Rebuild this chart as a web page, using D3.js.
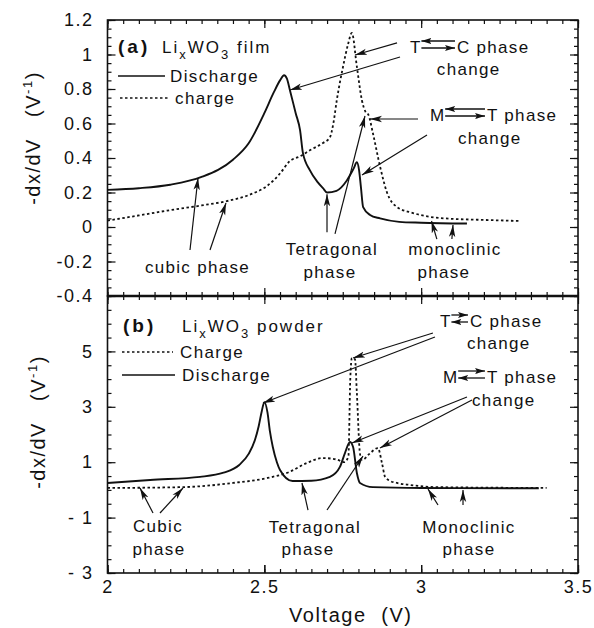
<!DOCTYPE html>
<html>
<head>
<meta charset="utf-8">
<script src="https://cdn.jsdelivr.net/npm/d3@7"></script>
<style>
    body { margin: 0; background: #fff; }
    text { font-family: "Liberation Sans", Arial, Helvetica, sans-serif; fill: #111; }
</style>
</head>
<body>
<div id="chart"></div>
<script>
// (a) LixWO3 film
var filmDisV = [2.0, 2.1, 2.2, 2.3, 2.4, 2.45, 2.5, 2.53, 2.55, 2.563, 2.572, 2.582, 2.6, 2.614, 2.623, 2.645, 2.67, 2.687, 2.70, 2.73, 2.763, 2.785, 2.795, 2.802, 2.808, 2.815, 2.837, 2.869, 2.93, 3.0, 3.146];
var filmDis  = [0.215, 0.225, 0.245, 0.29, 0.39, 0.485, 0.66, 0.78, 0.85, 0.88, 0.86, 0.79, 0.66, 0.56, 0.43, 0.33, 0.26, 0.225, 0.2, 0.21, 0.27, 0.34, 0.375, 0.33, 0.23, 0.115, 0.07, 0.05, 0.03, 0.025, 0.02];
var filmChgV = [2.0, 2.1, 2.19, 2.3, 2.38, 2.45, 2.51, 2.55, 2.58, 2.614, 2.65, 2.687, 2.709, 2.72, 2.731, 2.751, 2.767, 2.779, 2.795, 2.811, 2.822, 2.832, 2.846, 2.869, 2.891, 2.923, 2.974, 3.06, 3.219, 3.315];
var filmChg  = [0.037, 0.067, 0.095, 0.125, 0.15, 0.185, 0.24, 0.31, 0.38, 0.41, 0.45, 0.487, 0.52, 0.6, 0.735, 0.93, 1.06, 1.125, 0.93, 0.735, 0.67, 0.65, 0.545, 0.35, 0.2, 0.116, 0.081, 0.052, 0.04, 0.035];

// (b) LixWO3 powder
var powDisV = [2.0, 2.136, 2.295, 2.37, 2.42, 2.45, 2.47, 2.482, 2.492, 2.5, 2.51, 2.518, 2.527, 2.54, 2.55, 2.59, 2.65, 2.709, 2.741, 2.757, 2.773, 2.783, 2.795, 2.805, 2.846, 3.0, 3.375];
var powDis  = [0.25, 0.36, 0.47, 0.62, 0.9, 1.3, 1.8, 2.3, 2.85, 3.17, 2.8, 2.1, 1.55, 1.0, 0.72, 0.32, 0.33, 0.47, 0.83, 1.33, 1.73, 1.55, 0.61, 0.25, 0.1, 0.07, 0.06];
var powChgV = [2.0, 2.24, 2.4, 2.51, 2.58, 2.635, 2.686, 2.73, 2.755, 2.768, 2.774, 2.779, 2.789, 2.795, 2.805, 2.812, 2.835, 2.862, 2.875, 2.885, 2.9, 2.923, 2.964, 3.05, 3.4];
var powChg  = [0.07, 0.1, 0.25, 0.43, 0.65, 0.97, 1.15, 1.1, 1.0, 1.2, 4.0, 4.76, 4.72, 3.5, 1.3, 1.08, 1.3, 1.51, 0.97, 0.47, 0.33, 0.25, 0.18, 0.1, 0.07];

// ticks
var xTicks = [2, 2.5, 3, 3.5];
var xTickLabels = ["2", "2.5", "3", "3.5"];
var yTicksA = [1.2, 1, 0.8, 0.6, 0.4, 0.2, 0, -0.2, -0.4];
var yTickLabelsA = ["1.2", "1", "0.8", "0.6", "0.4", "0.2", "0", "-0.2", "-0.4"];
var yTicksB = [5, 3, 1, -1, -3];
var yTickLabelsB = ["5", "3", "1", "- 1", "- 3"];

// annotations, in data units: arrows [fromV, fromY, toV, toY]
var arrowsA = [[2.923, 1.067, 2.789, 0.997], [2.9325, 0.9855, 2.5818, 0.7942],
               [2.99, 0.626, 2.837, 0.626], [3.0186, 0.5333, 2.8114, 0.3014],
               [2.6998, -0.03, 2.6998, 0.19], [2.7253, -0.04, 2.8209, 0.6435],
               [3.05, -0.07, 3.033, 0.035], [3.098, -0.07, 3.1015, 0.012],
               [2.263, -0.133, 2.2885, 0.284], [2.3268, -0.133, 2.3778, 0.139]];
var arrowsB = [[3.0376, 5.664, 2.7826, 4.76], [3.044, 5.52, 2.4957, 3.137],
               [3.1461, 3.354, 2.7794, 1.693], [3.162, 3.2455, 2.8687, 1.513],
               [2.6392, -0.726, 2.62, 0.249], [2.6998, -0.726, 2.8146, 1.224],
               [3.0537, -0.545, 3.0218, 0.032], [3.1334, -0.545, 3.1334, -0.004],
               [2.1451, -0.834, 2.1036, 0.069], [2.1674, -0.834, 2.2407, 0.069]];
// texts [label, V, y, anchor]
var textsA = [["change", 3.05, 0.881, "start"], ["change", 3.1174, 0.4812, "start"],
              ["Tetragonal", 2.7157, -0.16, "middle"], ["phase", 2.7093, -0.298, "middle"],
              ["monoclinic", 3.1078, -0.16, "middle"], ["phase", 3.0727, -0.298, "middle"],
              ["cubic phase", 2.2869, -0.267, "middle"]];
var textsB = [["change", 3.1461, 5.087, "start"], ["change", 3.162, 3.029, "start"],
              ["Tetragonal", 2.6615, -1.556, "middle"], ["phase", 2.6392, -2.35, "middle"],
              ["Monoclinic", 3.1525, -1.556, "middle"], ["phase", 3.1525, -2.35, "middle"],
              ["Cubic", 2.161, -1.52, "middle"], ["phase", 2.1642, -2.35, "middle"]];
// phase change symbols [left, right, leftV, rightV, y, topArrowPointsRight]
var swapA = [["T", "C phase", 2.9644, 3.1142, 1.0087, false], ["M", "T phase", 3.0281, 3.2098, 0.6145, false]];
var swapB = [["T", "C phase", 3.06, 3.1557, 5.881, true], ["M", "T phase", 3.0696, 3.2098, 3.859, true]];
// legends [label, dashed, lineFromV, lineToV, lineY, textV, textY]
var legendA = [["Discharge", false, 2.0335, 2.1833, 0.8754, 2.1993, 0.8406], ["charge", true, 2.0399, 2.1929, 0.7478, 2.2152, 0.713]];
var legendB = [["Charge", true, 2.0462, 2.2088, 4.978, 2.2311, 4.762], ["Discharge", false, 2.0462, 2.2152, 4.148, 2.2375, 3.931]];

var width = 594, height = 628;
var x = d3.scaleLinear().domain([2, 3.5]).range([107.5, 578]);
var yA = d3.scaleLinear().domain([-0.4, 1.2]).range([296, 20]);
var yB = d3.scaleLinear().domain([-3, 7]).range([573, 296]);

var svg = d3.select("#chart").append("svg")
    .attr("width", width)
    .attr("height", height);

var defs = svg.append("defs");
defs.append("marker").attr("id", "head")
    .attr("viewBox", "0 -4 12 8").attr("refX", 12).attr("refY", 0)
    .attr("markerWidth", 12).attr("markerHeight", 8)
    .attr("markerUnits", "userSpaceOnUse").attr("orient", "auto")
    .append("path").attr("d", "M0,-3.2L12,0L0,3.2L3,0Z").attr("fill", "#111");
defs.append("marker").attr("id", "small")
    .attr("viewBox", "0 -4 10 8").attr("refX", 10).attr("refY", 0)
    .attr("markerWidth", 10).attr("markerHeight", 8)
    .attr("markerUnits", "userSpaceOnUse").attr("orient", "auto")
    .append("path").attr("d", "M0,-3L10,0L0,3L2,0Z").attr("fill", "#111");

function pairs(vs, ys) {
    return vs.map(function (v, i) { return [v, ys[i]]; });
}

function tickGroup(axis, tx, ty) {
    var g = svg.append("g").attr("transform", "translate(" + tx + "," + ty + ")").call(axis);
    g.select(".domain").remove();
    g.selectAll("line").attr("stroke", "#111").attr("stroke-width", 1.2);
    g.selectAll("text").attr("font-size", 18).style("letter-spacing", "1.5px").attr("fill", "#111");
    return g;
}

var xMinor = d3.range(2, 3.501, 0.05);
var x0 = x.range()[0], x1 = x.range()[1];

function drawPanel(y, yTicks, yLabels, yMinor, disV, dis, chgV, chg, arrows, texts, swaps, legend, tag, tail) {
    var top = y.range()[1], bottom = y.range()[0];
    var fmt = function (d) { return yLabels[yTicks.indexOf(d)]; };
    // y ticks
    tickGroup(d3.axisLeft(y).tickValues(yMinor).tickSize(-4).tickFormat(""), x0, 0);
    tickGroup(d3.axisLeft(y).tickValues(yTicks).tickSize(-8).tickPadding(14).tickFormat(fmt), x0, 0);
    tickGroup(d3.axisRight(y).tickValues(yMinor).tickSize(-4).tickFormat(""), x1, 0);
    tickGroup(d3.axisRight(y).tickValues(yTicks).tickSize(-8).tickFormat(""), x1, 0);
    // x ticks on top and bottom edges, pointing in
    tickGroup(d3.axisTop(x).tickValues(xMinor).tickSize(-4).tickFormat(""), 0, top);
    tickGroup(d3.axisTop(x).tickValues(xTicks).tickSize(-8).tickFormat(""), 0, top);
    tickGroup(d3.axisBottom(x).tickValues(xMinor).tickSize(-4).tickFormat(""), 0, bottom);
    tickGroup(d3.axisBottom(x).tickValues(xTicks).tickSize(-8).tickFormat(""), 0, bottom);

    svg.append("rect")
        .attr("x", x0).attr("y", top)
        .attr("width", x1 - x0).attr("height", bottom - top)
        .attr("fill", "none").attr("stroke", "#111").attr("stroke-width", 1.6);

    var line = d3.line()
        .x(function (d) { return x(d[0]); })
        .y(function (d) { return y(d[1]); })
        .curve(d3.curveMonotoneX);

    svg.append("path").datum(pairs(chgV, chg))
        .attr("d", line).attr("fill", "none").attr("stroke", "#111")
        .attr("stroke-width", 1.8).attr("stroke-dasharray", "2.5,2.5");
    svg.append("path").datum(pairs(disV, dis))
        .attr("d", line).attr("fill", "none").attr("stroke", "#111")
        .attr("stroke-width", 1.9);

    // title
    var t = svg.append("text")
        .attr("x", x(tag[1])).attr("y", y(tag[2]))
        .attr("font-size", 17);
    t.append("tspan").text(tag[0]).attr("font-weight", "bold").attr("font-size", 19).style("letter-spacing", "3px");
    var t2 = svg.append("text").attr("x", x(tail[1])).attr("y", y(tag[2]))
        .attr("font-size", 17).style("letter-spacing", "2px");
    t2.append("tspan").text("Li");
    t2.append("tspan").text("x").attr("font-size", 13).attr("dy", 6);
    t2.append("tspan").text("WO").attr("dy", -6);
    t2.append("tspan").text("3").attr("font-size", 13).attr("dy", 6);
    t2.append("tspan").text(" " + tail[0]).attr("dy", -6);

    // legend
    legend.forEach(function (d) {
        svg.append("line")
            .attr("x1", x(d[2])).attr("x2", x(d[3]))
            .attr("y1", y(d[4])).attr("y2", y(d[4]))
            .attr("stroke", "#111").attr("stroke-width", d[1] ? 1.6 : 1.3)
            .attr("stroke-dasharray", d[1] ? "2.5,2.5" : null);
        svg.append("text").attr("x", x(d[5])).attr("y", y(d[6]))
            .attr("font-size", 17).style("letter-spacing", "1.4px").text(d[0]);
    });

    // arrows
    arrows.forEach(function (d) {
        svg.append("line")
            .attr("x1", x(d[0])).attr("y1", y(d[1]))
            .attr("x2", x(d[2])).attr("y2", y(d[3]))
            .attr("stroke", "#111").attr("stroke-width", 1.2)
            .attr("marker-end", "url(#head)");
    });

    texts.forEach(function (d) {
        svg.append("text").attr("x", x(d[1])).attr("y", y(d[2]))
            .attr("text-anchor", d[3]).attr("font-size", 17)
            .style("letter-spacing", "1.3px").text(d[0]);
    });

    // "T <-> C" style labels, two opposite arrows between the letters
    swaps.forEach(function (d) {
        var base = y(d[4]);
        var a = svg.append("text").attr("x", x(d[2])).attr("y", base)
            .attr("font-size", 17).text(d[0]);
        svg.append("text").attr("x", x(d[3])).attr("y", base)
            .attr("font-size", 17).style("letter-spacing", "1.3px").text(d[1]);
        var xs = x(d[2]) + a.node().getComputedTextLength() + 1;
        var xe = x(d[3]) - 2;
        var rows = [[base - 12, d[5]], [base - 5, !d[5]]];
        rows.forEach(function (r) {
            svg.append("line")
                .attr("x1", r[1] ? xs : xe).attr("x2", r[1] ? xe : xs)
                .attr("y1", r[0]).attr("y2", r[0])
                .attr("stroke", "#111").attr("stroke-width", 1.3)
                .attr("marker-end", "url(#small)");
        });
    });
}

drawPanel(yA, yTicksA, yTickLabelsA, d3.range(-0.4, 1.2001, 0.05).map(function (d) { return +d.toFixed(2); }),
    filmDisV, filmDis, filmChgV, filmChg, arrowsA, textsA, swapA, legendA,
    ["(a)", 2.0335, 1.0087], ["film", 2.174]);
drawPanel(yB, yTicksB, yTickLabelsB, d3.range(-3, 7.001, 0.5),
    powDisV, powDis, powChgV, powChg, arrowsB, textsB, swapB, legendB,
    ["(b)", 2.0494, 5.70], ["powder", 2.2375]);

// x labels on the bottom panel
tickGroup(d3.axisBottom(x).tickValues(xTicks).tickSize(-8).tickPadding(7)
    .tickFormat(function (d, i) { return xTickLabels[i]; }), 0, yB.range()[0]);

// thicker border between the panels
svg.append("line").attr("x1", x0).attr("x2", x1)
    .attr("y1", yA.range()[0]).attr("y2", yA.range()[0])
    .attr("stroke", "#111").attr("stroke-width", 2.4);

// axis titles
svg.append("text")
    .attr("x", (x0 + x1) / 2 + 8).attr("y", 622)
    .attr("text-anchor", "middle").attr("font-size", 20)
    .style("letter-spacing", "1.6px").attr("xml:space", "preserve")
    .text("Voltage  (V)");

[[40, 138], [45, 422]].forEach(function (p) {
    var t = svg.append("text")
        .attr("transform", "translate(" + p[0] + "," + p[1] + ") rotate(-90)")
        .attr("text-anchor", "middle").attr("font-size", 20)
        .style("letter-spacing", "1.5px").attr("xml:space", "preserve");
    t.append("tspan").text("-dx/dV   (V");
    t.append("tspan").text("-1").attr("font-size", 13).attr("dy", -8);
    t.append("tspan").text(")").attr("dy", 8);
});
</script>
</body>
</html>
